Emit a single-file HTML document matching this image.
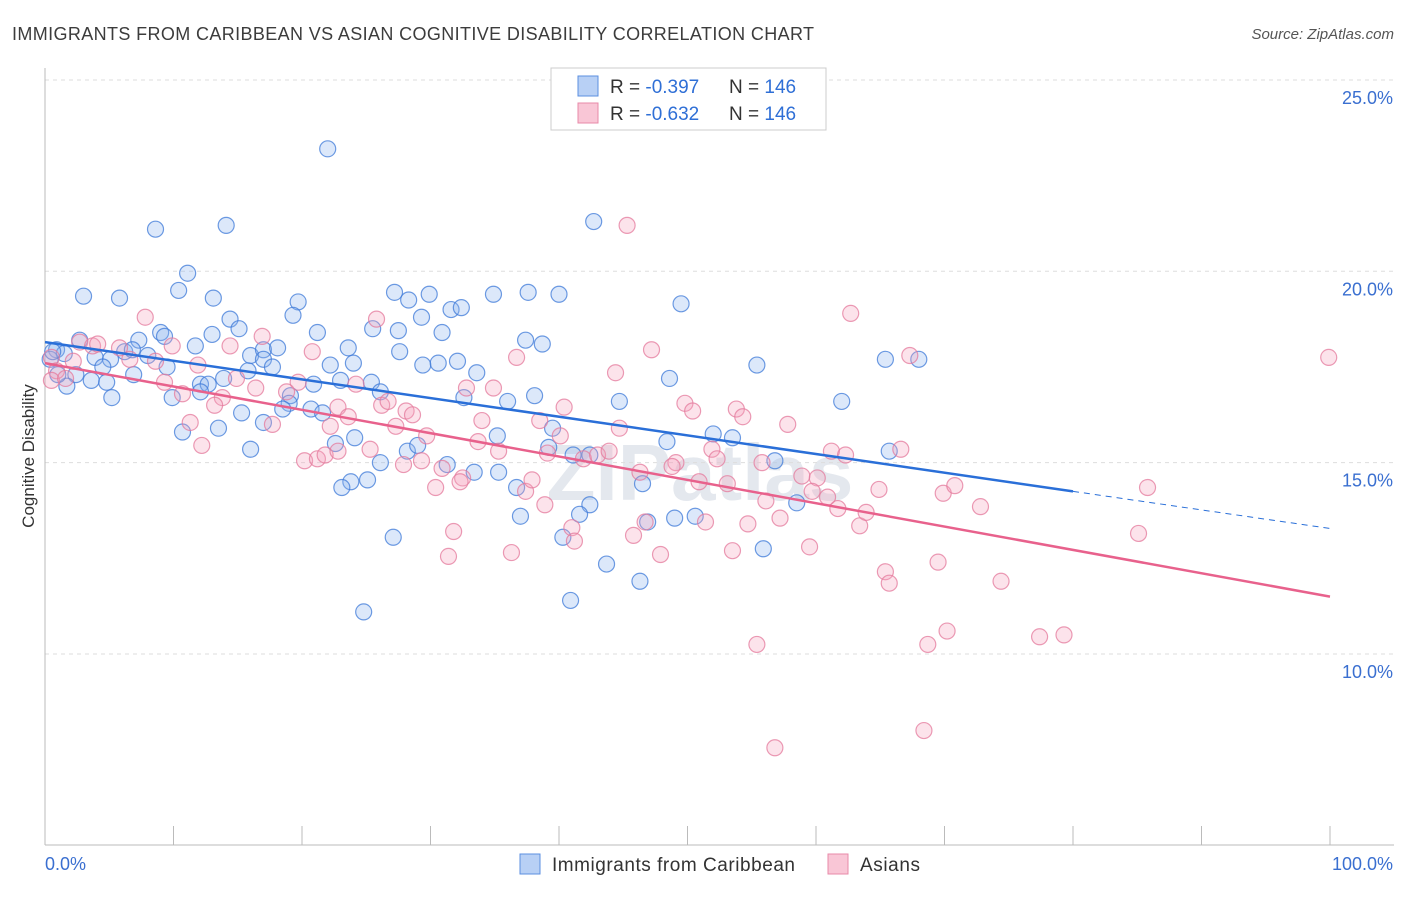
<!DOCTYPE html>
<html><head><meta charset="utf-8"><style>
body{margin:0;background:#fff;font-family:"Liberation Sans",sans-serif;}
</style></head><body>
<svg id="chart" width="1406" height="892" xmlns="http://www.w3.org/2000/svg" font-family="Liberation Sans, sans-serif">
<text x="12" y="40" font-size="18" fill="#3c3c3c" textLength="802" lengthAdjust="spacing">IMMIGRANTS FROM CARIBBEAN VS ASIAN COGNITIVE DISABILITY CORRELATION CHART</text>
<text x="1394" y="39" font-size="15" fill="#555" font-style="italic" text-anchor="end">Source: ZipAtlas.com</text>
<text x="700" y="500" font-size="80" fill="#e4e8ee" text-anchor="middle" font-weight="bold">ZIPatlas</text>
<g id="grid"></g><g id="axes"></g><g id="marks"></g>
<text transform="translate(34,456) rotate(-90)" font-size="17" fill="#333" text-anchor="middle">Cognitive Disability</text>
<g>
<rect x="551" y="68" width="275" height="62" fill="#fff" stroke="#ccc"/>
<rect x="578" y="76" width="20" height="20" fill="#b8d0f5" stroke="#5b8fe0"/>
<rect x="578" y="103" width="20" height="20" fill="#f9c6d6" stroke="#e88aa8"/>
<text x="610" y="93" font-size="19" fill="#333">R = <tspan fill="#2f6fd6">-0.397</tspan></text>
<text x="729" y="93" font-size="19" fill="#333">N = <tspan fill="#2f6fd6">146</tspan></text>
<text x="610" y="120" font-size="19" fill="#333">R = <tspan fill="#2f6fd6">-0.632</tspan></text>
<text x="729" y="120" font-size="19" fill="#333">N = <tspan fill="#2f6fd6">146</tspan></text>
</g>
<g>
<rect x="520" y="854" width="20" height="20" fill="#b8d0f5" stroke="#5b8fe0"/>
<text x="552" y="871" font-size="19" fill="#333" textLength="243" lengthAdjust="spacing">Immigrants from Caribbean</text>
<rect x="828" y="854" width="20" height="20" fill="#f9c6d6" stroke="#e88aa8"/>
<text x="860" y="871" font-size="19" fill="#333" textLength="60" lengthAdjust="spacing">Asians</text>
</g>
</svg>
<script>
const yTicks=[10,15,20,25];
const yTickLabels=["10.0%","15.0%","20.0%","25.0%"];
const xTickLabels=["0.0%","100.0%"];
const blueX=[22.0,42.7,8.6,14.1,11.1,3.0,5.8,10.4,13.1,19.7,19.3,27.2,28.3,29.9,34.9,37.6,40.0,31.6,32.4,49.5,14.4,15.1,13.0,21.2,25.5,27.5,29.3,30.9,37.4,38.7,27.6,23.6,9.0,9.3,7.3,2.7,0.9,1.5,3.9,5.1,6.2,8.0,6.8,11.7,16.0,17.0,18.1,17.0,17.7,15.8,9.5,6.9,4.5,2.4,1.7,3.6,4.8,5.2,9.9,12.1,12.7,12.1,13.9,19.1,20.9,19.0,20.7,21.6,18.5,15.3,17.0,13.5,10.7,16.0,22.2,24.0,23.0,25.4,26.1,29.4,30.6,32.1,33.6,32.6,36.0,38.1,44.7,48.6,55.4,65.4,68.0,62.0,24.1,22.6,28.2,29.0,26.1,31.3,33.4,35.3,35.2,39.5,39.2,41.1,42.4,48.4,52.0,53.5,56.8,65.7,23.8,23.1,25.1,36.7,46.5,42.4,41.6,37.0,46.9,49.0,50.6,58.5,40.3,27.1,43.7,46.3,55.9,40.9,24.8,0.4,1.0,0.6];
const blueY=[23.2,21.3,21.1,21.2,19.95,19.35,19.3,19.5,19.3,19.2,18.85,19.45,19.25,19.4,19.4,19.45,19.4,19.0,19.05,19.15,18.75,18.5,18.35,18.4,18.5,18.45,18.8,18.4,18.2,18.1,17.9,18.0,18.4,18.3,18.2,18.2,17.95,17.85,17.75,17.7,17.9,17.8,17.95,18.05,17.8,17.95,18.0,17.7,17.5,17.4,17.5,17.3,17.5,17.3,17.0,17.15,17.1,16.7,16.7,17.05,17.05,16.85,17.2,16.75,17.05,16.55,16.4,16.3,16.4,16.3,16.05,15.9,15.8,15.35,17.55,17.6,17.15,17.1,16.85,17.55,17.6,17.65,17.35,16.7,16.6,16.75,16.6,17.2,17.55,17.7,17.7,16.6,15.65,15.5,15.3,15.45,15.0,14.95,14.75,14.75,15.7,15.9,15.4,15.2,15.2,15.55,15.75,15.65,15.05,15.3,14.5,14.35,14.55,14.35,14.45,13.9,13.65,13.6,13.45,13.55,13.6,13.95,13.05,13.05,12.35,11.9,12.75,11.4,11.1,17.7,17.3,17.9];
const pinkX=[45.3,62.7,99.9,7.8,25.8,16.9,2.7,3.7,4.1,0.5,0.9,0.5,1.6,2.2,5.8,6.6,8.6,9.9,14.4,20.8,36.7,47.2,67.3,44.4,9.3,11.9,14.9,16.4,19.7,24.2,32.8,34.9,10.7,13.8,13.2,18.8,22.8,26.2,26.7,28.1,28.6,40.4,49.8,50.4,53.8,54.3,57.8,17.7,11.3,22.2,23.6,27.3,29.7,34.0,38.5,40.1,44.7,12.2,25.3,20.2,21.2,21.8,22.8,33.7,35.3,39.1,41.9,43.0,43.9,49.1,48.8,51.9,52.3,55.8,58.9,60.1,61.2,62.3,66.6,27.9,29.3,30.9,32.5,30.4,32.3,37.4,37.9,38.9,46.3,50.9,53.1,56.1,59.7,60.9,64.9,69.9,70.8,72.8,85.8,31.8,41.0,41.2,45.8,46.7,51.4,54.7,57.2,61.7,63.4,63.9,36.3,31.4,47.9,53.5,59.5,65.4,65.7,69.5,74.4,85.1,70.2,68.7,55.4,77.4,79.3,68.4,56.8];
const pinkY=[21.2,18.9,17.75,18.8,18.75,18.3,18.15,18.05,18.1,17.75,17.4,17.15,17.2,17.65,18.0,17.7,17.65,18.05,18.05,17.9,17.75,17.95,17.8,17.35,17.1,17.55,17.2,16.95,17.1,17.05,16.95,16.95,16.8,16.7,16.5,16.85,16.45,16.5,16.6,16.35,16.25,16.45,16.55,16.35,16.4,16.2,16.0,16.0,16.05,15.95,16.2,15.95,15.7,16.1,16.1,15.7,15.9,15.45,15.35,15.05,15.1,15.2,15.3,15.55,15.3,15.25,15.1,15.2,15.3,15.0,14.9,15.35,15.1,15.0,14.65,14.6,15.3,15.2,15.35,14.95,15.05,14.85,14.6,14.35,14.5,14.25,14.55,13.9,14.75,14.5,14.45,14.0,14.25,14.1,14.3,14.2,14.4,13.85,14.35,13.2,13.3,12.95,13.1,13.45,13.45,13.4,13.55,13.8,13.35,13.7,12.65,12.55,12.6,12.7,12.8,12.15,11.85,12.4,11.9,13.15,10.6,10.25,10.25,10.45,10.5,8.0,7.55];
const blueTrend=[[0,18.15],[80,14.25],[100,13.28]];
const pinkTrend=[[0,17.6],[100,11.5]];

const NS="http://www.w3.org/2000/svg";
const X=v=>45+v*12.85, Y=v=>654-(v-10)*38.27;
function mk(tag,attrs,parent){const e=document.createElementNS(NS,tag);for(const k in attrs)e.setAttribute(k,attrs[k]);document.getElementById(parent).appendChild(e);return e;}
yTicks.forEach((t,i)=>{
 const g=mk('line',{x1:45,x2:1394,y1:Y(t),y2:Y(t),stroke:'#ddd','stroke-dasharray':'4,4'},'grid');
 
 
 const l=mk('text',{x:1393,y:Y(t)+24,'font-size':18,fill:'#3a6fd0','text-anchor':'end'},'axes');
 l.textContent=yTickLabels[i];
 
 
});
const ax=mk('line',{x1:45,x2:45,y1:68,y2:845,stroke:'#bbb'},'axes');


const bx=mk('line',{x1:45,x2:1394,y1:845,y2:845,stroke:'#bbb'},'axes');


for(let i=0;i<=10;i++){const t=mk('line',{x1:X(i*10),x2:X(i*10),y1:826,y2:845,stroke:'#bbb'},'axes');
 
 }
[[0,'start',45],[100,'end',1393]].forEach((d,i)=>{const l=mk('text',{x:d[2],y:870,'font-size':18,fill:'#3a6fd0','text-anchor':d[1]},'axes');l.textContent=xTickLabels[i];
 
 });
function pts(xs,ys,fill,stroke,name){xs.forEach((x,i)=>{const c=mk('circle',{cx:X(x),cy:Y(ys[i]),r:8,fill:fill,'fill-opacity':0.3,stroke:stroke,'stroke-opacity':0.75,'stroke-width':1.2},'marks');
 
 });}
pts(blueX,blueY,'#8ab4f0','#3d7ad8','caribbean-point');
pts(pinkX,pinkY,'#f5a3bd','#e47a9c','asian-point');
const b1=mk('line',{x1:X(blueTrend[0][0]),y1:Y(blueTrend[0][1]),x2:X(blueTrend[1][0]),y2:Y(blueTrend[1][1]),stroke:'#2a6fd8','stroke-width':2.5},'marks');


const b2=mk('line',{x1:X(blueTrend[1][0]),y1:Y(blueTrend[1][1]),x2:X(blueTrend[2][0]),y2:Y(blueTrend[2][1]),stroke:'#2a6fd8','stroke-width':1,'stroke-dasharray':'6,5'},'marks');


const p1=mk('line',{x1:X(pinkTrend[0][0]),y1:Y(pinkTrend[0][1]),x2:X(pinkTrend[1][0]),y2:Y(pinkTrend[1][1]),stroke:'#e8618c','stroke-width':2.5},'marks');


</script>
</body></html>
